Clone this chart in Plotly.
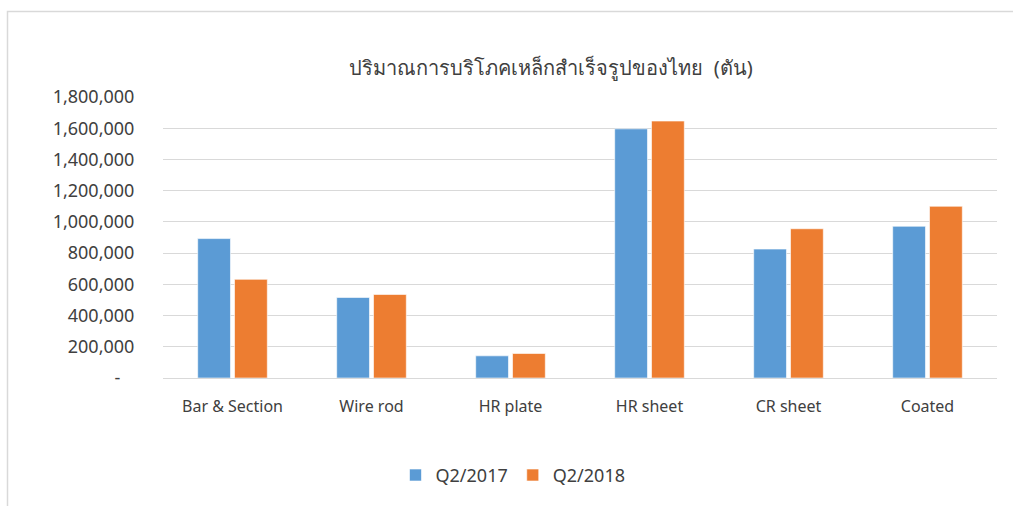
import plotly.graph_objects as go

categories = ["Bar & Section", "Wire rod", "HR plate", "HR sheet", "CR sheet", "Coated"]
q2_2017 = [893000, 516000, 142000, 1596000, 826000, 972000]
q2_2018 = [632000, 535000, 157000, 1646000, 956000, 1100000]
tick_vals = [0, 200000, 400000, 600000, 800000, 1000000, 1200000, 1400000, 1600000, 1800000]
tick_text = ["-\u00a0\u00a0\u00a0"] + [f"{v:,}" for v in tick_vals[1:]]
title_text = "ปริมาณการบริโภคเหล็กสำเร็จรูปของไทย  (ตัน)"

FONT = "Tahoma, 'Noto Sans', 'DejaVu Sans', sans-serif"
TXT = "#404040"

W, H = 1013, 506
L, R, T, B = 163, 16, 97, 126
PW = W - L - R
PH = H - T - B

fig = go.Figure()
fig.add_trace(go.Bar(name="Q2/2017", x=categories, y=q2_2017,
                     marker=dict(color="#5B9BD5", line=dict(color="rgba(255,255,255,0.6)", width=1))))
fig.add_trace(go.Bar(name="Q2/2018", x=categories, y=q2_2018,
                     marker=dict(color="#ED7D31", line=dict(color="rgba(255,255,255,0.6)", width=1))))

fig.update_layout(
    width=W, height=H,
    margin=dict(l=L, r=R, t=T, b=B),
    paper_bgcolor="white", plot_bgcolor="white",
    barmode="group", bargap=0.47, bargroupgap=0.11,
    font=dict(family=FONT, size=16, color=TXT),
    title=dict(text=title_text, x=551 / W, xref="container", xanchor="center",
               y=1 - 68 / H, yref="container", yanchor="middle",
               font=dict(size=20, color=TXT, family=FONT)),
    showlegend=True,
    legend=dict(orientation="h", x=(513 - L) / PW, xanchor="center",
                y=-(478 - 380) / PH, yanchor="middle",
                font=dict(size=18, color=TXT), itemwidth=30, traceorder="normal"),
    xaxis=dict(showgrid=False, showline=False, zeroline=False, ticks="outside",
               ticklen=14, tickcolor="rgba(0,0,0,0)", tickfont=dict(size=16, color=TXT)),
    yaxis=dict(range=[0, 1800000], tickvals=tick_vals, ticktext=tick_text,
               showgrid=True, gridcolor="#D9D9D9", gridwidth=1, zeroline=True,
               zerolinecolor="#D9D9D9", zerolinewidth=1, showline=False,
               ticks="outside", ticklen=24, tickcolor="rgba(0,0,0,0)",
               tickfont=dict(size=18, color=TXT)),
    shapes=[dict(type="rect", xref="paper", yref="paper",
                 x0=(7.5 - L) / PW, x1=(W + 20 - L) / PW,
                 y0=-(H + 20 - T - PH) / PH, y1=1 + (T - 11) / PH,
                 line=dict(color="#D9D9D9", width=1.5), fillcolor="rgba(0,0,0,0)", layer="below")],
)

fig.write_html(
    "out.html",
    config={"displayModeBar": False},
    post_script="document.body.style.margin='0';document.body.style.overflow='hidden';",
)
